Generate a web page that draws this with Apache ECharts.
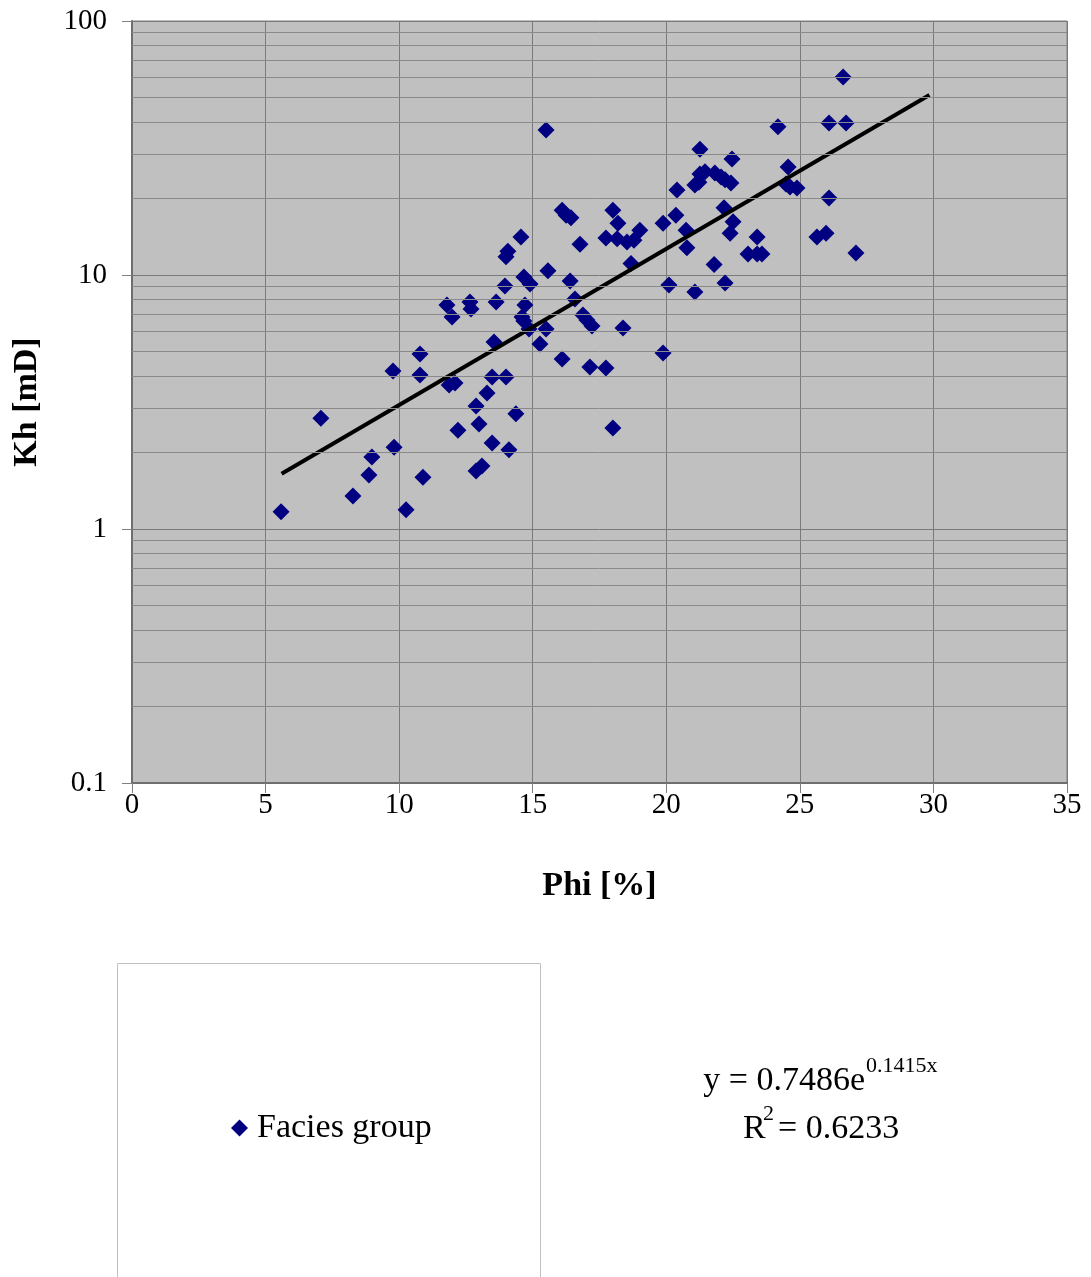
<!DOCTYPE html>
<html>
<head>
<meta charset="UTF-8">
<title>Kh vs Phi</title>
<style>
  html, body { margin: 0; padding: 0; background: #fff; }
  #chart { width: 1091px; height: 1277px; }
</style>
</head>
<body>
<div id="chart"></div>
<script src="https://cdn.jsdelivr.net/npm/echarts@6/dist/echarts.min.js"></script>
<script>
// porosity (%) and horizontal permeability (mD)
var phi = [5.58,7.07,8.27,8.87,8.98,9.77,9.81,10.26,10.78,10.78,
  10.89,11.79,11.98,11.87,12.09,12.2,12.65,12.69,12.88,12.88,
  12.99,13.1,13.29,13.48,13.48,13.55,13.63,13.96,14.0,14.0,
  14.07,14.11,14.37,14.56,14.6,14.67,14.71,14.67,14.86,14.9,
  15.27,15.5,15.5,15.57,16.1,16.1,16.25,16.43,16.4,16.58,
  16.77,16.88,17.03,17.14,17.22,17.74,17.74,18.0,18.0,18.19,
  18.16,18.38,18.53,18.68,18.79,19.01,19.88,19.88,20.1,20.36,
  20.4,20.74,20.77,21.07,21.07,21.22,21.26,21.26,21.45,21.79,
  21.82,22.05,22.16,22.2,22.2,22.42,22.39,22.46,22.5,23.06,
  23.4,23.4,23.58,24.18,24.56,24.48,24.63,24.89,25.64,25.98,
  26.09,26.09,26.62,26.73,27.1];
var kh = [1.17,2.73,1.35,1.63,1.92,4.19,2.10,1.19,4.89,4.04,
  1.60,7.62,6.84,3.69,3.76,2.45,7.83,7.35,3.05,1.69,
  2.59,1.77,3.43,3.97,2.18,5.45,7.83,9.05,3.97,11.8,
  12.4,2.05,2.84,14.1,6.84,9.82,7.62,6.59,6.13,9.22,
  5.35,37.2,6.13,10.4,4.67,18.0,17.2,16.8,9.47,8.05,
  13.2,6.96,6.65,4.34,6.3,4.30,14.0,18.0,2.50,16.0,
  13.9,6.19,13.5,11.1,13.7,15.0,4.93,16.0,9.14,17.2,
  21.6,15.0,12.8,8.57,22.6,23.2,31.3,25.0,25.5,11.0,
  25.2,24.3,18.4,9.3,23.7,23.0,14.6,28.6,16.2,12.1,
  14.1,12.1,12.1,38.3,26.6,22.8,22.2,22.0,14.1,14.6,
  20.1,39.7,60.2,39.7,12.2];

// exponential trendline end points (straight on a log axis)
var trendX = [5.6, 29.85];
var trendY = [1.65, 51.1];

// minor gridlines between decades
var minorY = [0.2,0.3,0.4,0.5,0.6,0.7,0.8,0.9,
  2,3,4,5,6,7,8,9,
  20,30,40,50,60,70,80,90];

var serif = 'Liberation Serif';

var points = phi.map(function (p, i) { return [p, kh[i]]; });
var trend = trendX.map(function (x, i) { return [x, trendY[i]]; });

var chart = echarts.init(document.getElementById('chart'));
chart.setOption({
  animation: false,
  backgroundColor: '#fff',
  grid: {
    left: 132, right: 24, top: 21, bottom: 494,
    show: true, backgroundColor: '#c0c0c0',
    borderColor: '#808080', borderWidth: 1
  },
  xAxis: {
    type: 'value', min: 0, max: 35, interval: 5,
    name: 'Phi [%]', nameLocation: 'middle', nameGap: 86,
    nameTextStyle: { fontFamily: serif, fontSize: 34, fontWeight: 'bold', color: '#000' },
    axisLine: { show: true, lineStyle: { color: '#6e6e6e', width: 2 } },
    axisTick: { show: true, inside: false, length: 10, lineStyle: { color: '#808080' } },
    axisLabel: { fontFamily: serif, fontSize: 29, color: '#000', margin: 8 },
    splitLine: { show: true, lineStyle: { color: '#7a7a7a', width: 1 } }
  },
  yAxis: {
    type: 'log', logBase: 10, min: 0.1, max: 100,
    name: 'Kh [mD]', nameLocation: 'middle', nameGap: 88, nameRotate: 90,
    nameTextStyle: { fontFamily: serif, fontSize: 34, fontWeight: 'bold', color: '#000' },
    axisLine: { show: true, lineStyle: { color: '#6e6e6e', width: 2 } },
    axisTick: { show: true, inside: false, length: 10, lineStyle: { color: '#808080' } },
    axisLabel: {
      fontFamily: serif, fontSize: 29, color: '#000', margin: 25,
      formatter: function (v) { return String(+v.toPrecision(3)); }
    },
    splitLine: { show: true, lineStyle: { color: '#7a7a7a', width: 1 } }
  },
  legend: {
    data: [{ name: 'Facies group', icon: 'diamond' }],
    left: 226, top: 1106,
    itemWidth: 17, itemHeight: 17,
    textStyle: { fontFamily: serif, fontSize: 34, color: '#000', padding: [0, 0, 0, 4] }
  },
  graphic: [
    {
      type: 'rect', z: -1, silent: true,
      shape: { x: 117.5, y: 963.5, width: 423, height: 340 },
      style: { fill: 'none', stroke: '#c0c0c0', lineWidth: 1 }
    },
    { type: 'text', x: 865, y: 1081, style: { text: 'y = 0.7486e', font: '34px "Liberation Serif"', fill: '#000', align: 'right', verticalAlign: 'middle' } },
    { type: 'text', x: 866, y: 1066, style: { text: '0.1415x', font: '22px "Liberation Serif"', fill: '#000', align: 'left', verticalAlign: 'middle' } },
    { type: 'text', x: 743, y: 1129, style: { text: 'R', font: '34px "Liberation Serif"', fill: '#000', align: 'left', verticalAlign: 'middle' } },
    { type: 'text', x: 763, y: 1114, style: { text: '2', font: '22px "Liberation Serif"', fill: '#000', align: 'left', verticalAlign: 'middle' } },
    { type: 'text', x: 778, y: 1129, style: { text: '= 0.6233', font: '34px "Liberation Serif"', fill: '#000', align: 'left', verticalAlign: 'middle' } }
  ],
  series: [
    {
      name: 'grid-minor', type: 'line', data: [], silent: true,
      markLine: {
        silent: true, symbol: 'none', label: { show: false },
        lineStyle: { color: '#8a8a8a', width: 1, type: 'solid' },
        data: minorY.map(function (v) { return { yAxis: v }; })
      }
    },
    {
      name: 'Facies group', type: 'scatter', symbol: 'diamond', symbolSize: 17,
      itemStyle: { color: '#000080', opacity: 1 },
      data: points, z: 3
    },
    {
      name: 'Trend', type: 'line', data: trend, symbol: 'none', z: 4,
      lineStyle: { color: '#000', width: 4 }
    }
  ]
});
</script>
</body>
</html>
